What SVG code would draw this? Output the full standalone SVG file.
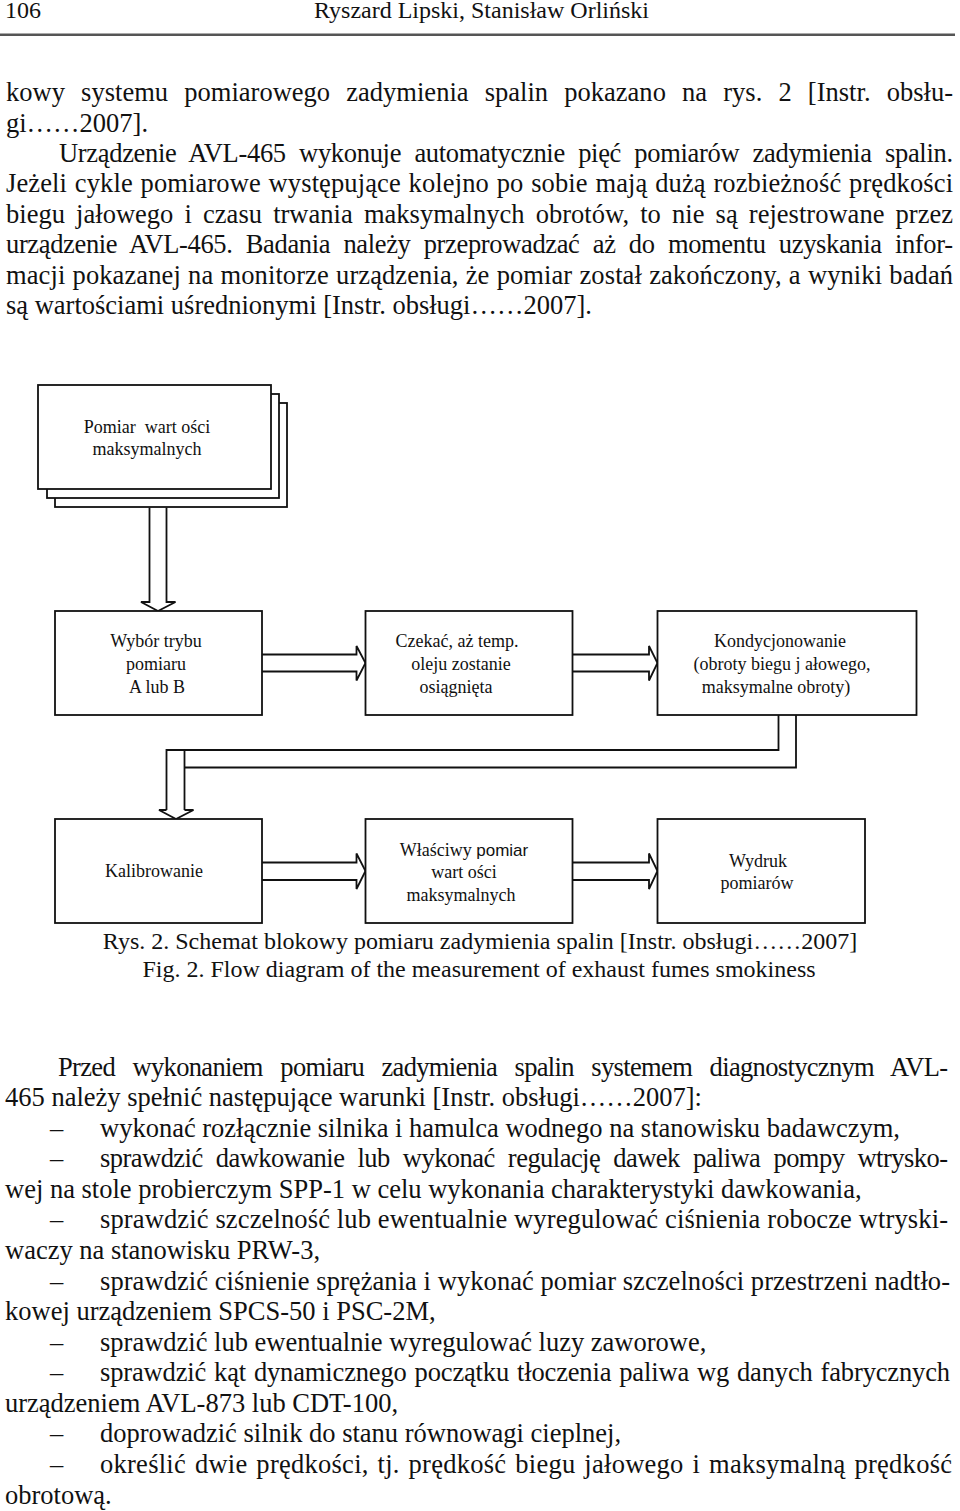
<svg xmlns="http://www.w3.org/2000/svg" width="960" height="1511" viewBox="0 0 960 1511">
<style>
text{font-family:"Liberation Serif","Times New Roman",serif;fill:#111}
.b{font-size:26.5px}
.h{font-size:24px}
.cap{font-size:24px;text-anchor:middle}
.n{font-size:18px;text-anchor:middle}
.sans{font-family:"Liberation Sans",Arial,sans-serif;font-size:17px}
.box{fill:#fff;stroke:#111;stroke-width:1.8}
.arr{fill:#fff;stroke:#111;stroke-width:1.8;stroke-linejoin:miter}
.ln{fill:none;stroke:#111;stroke-width:1.8}
</style>
<rect width="960" height="1511" fill="#fff"/>
<g id="header">
<text class="h" x="5" y="18">106</text>
<text class="h" x="314" y="18">Ryszard Lipski, Stanisław Orliński</text>
<rect x="0" y="33.5" width="955" height="2.5" fill="#555"/>
</g>
<g id="text-top">
<text class="b" x="6" y="101" textLength="947" lengthAdjust="spacing" word-spacing="9.5">kowy systemu pomiarowego zadymienia spalin pokazano na rys. 2 [Instr. obsłu-</text>
<text class="b" x="6" y="131.5">gi……2007].</text>
<text class="b" x="59" y="162" textLength="894" lengthAdjust="spacing" word-spacing="7">Urządzenie AVL-465 wykonuje automatycznie pięć pomiarów zadymienia spalin.</text>
<text class="b" x="6" y="192.3" textLength="947" lengthAdjust="spacing" word-spacing="1">Jeżeli cykle pomiarowe występujące kolejno po sobie mają dużą rozbieżność prędkości</text>
<text class="b" x="6" y="222.7" textLength="947" lengthAdjust="spacing" word-spacing="4.5">biegu jałowego i czasu trwania maksymalnych obrotów, to nie są rejestrowane przez</text>
<text class="b" x="6" y="253.1" textLength="947" lengthAdjust="spacing" word-spacing="7">urządzenie AVL-465. Badania należy przeprowadzać aż do momentu uzyskania infor-</text>
<text class="b" x="6" y="283.5" textLength="947" lengthAdjust="spacing" word-spacing="0.5">macji pokazanej na monitorze urządzenia, że pomiar został zakończony, a wyniki badań</text>
<text class="b" x="6" y="313.9">są wartościami uśrednionymi [Instr. obsługi……2007].</text>
</g>
<g id="connectors">
<path class="arr" d="M149.5,507.5 V602 H141 L158,611 L175.5,602 H166.5 V507.5"/>
<path class="arr" d="M262,654.5 H356.5 V646 L365.5,663 L356.5,680.5 V671.5 H262"/>
<path class="arr" d="M572.5,654.5 H649 V646 L657.5,663 L649,680.5 V671.5 H572.5"/>
<path class="ln" d="M778.5,715 V750 H166.5 V810"/>
<path class="ln" d="M796,715 V767.5 H184.5"/>
<path class="ln" d="M184.5,750 V810"/>
<path class="arr" d="M166.5,810 H159 L176,819 L193.5,810 H184.5"/>
<path class="arr" d="M262,862.5 H356.5 V853.5 L365.5,871 L356.5,889 V880 H262"/>
<path class="arr" d="M572.5,862.5 H649 V853.5 L657.5,871 L649,889 V880 H572.5"/>
</g>
<g id="node-pomiar">
<rect class="box" x="55" y="403" width="232" height="104"/>
<rect class="box" x="47" y="394" width="232" height="104"/>
<rect class="box" x="38" y="385" width="233" height="104"/>
<text class="n" x="147" y="433" xml:space="preserve">Pomiar  wart ości</text>
<text class="n" x="147" y="455">maksymalnych</text>
</g>
<g id="node-wybor">
<rect class="box" x="55" y="611" width="207" height="104"/>
<text class="n" x="156" y="647">Wybór trybu</text>
<text class="n" x="156" y="670">pomiaru</text>
<text class="n" x="157" y="693">A lub B</text>
</g>
<g id="node-czekac">
<rect class="box" x="365.5" y="611" width="207" height="104"/>
<text class="n" x="457" y="647">Czekać, aż temp.</text>
<text class="n" x="461" y="670">oleju zostanie</text>
<text class="n" x="456" y="693">osiągnięta</text>
</g>
<g id="node-kondycjonowanie">
<rect class="box" x="657.5" y="611" width="259" height="104"/>
<text class="n" x="780" y="647">Kondycjonowanie</text>
<text class="n" x="782" y="670">(obroty biegu j ałowego,</text>
<text class="n" x="776" y="693">maksymalne obroty)</text>
</g>
<g id="node-kalibrowanie">
<rect class="box" x="55" y="819" width="207" height="104"/>
<text class="n" x="154" y="877">Kalibrowanie</text>
</g>
<g id="node-wlasciwy">
<rect class="box" x="365.5" y="819" width="207" height="104"/>
<text class="n" x="464" y="856">Właściwy <tspan class="sans">pomiar</tspan></text>
<text class="n" x="464" y="878">wart ości</text>
<text class="n" x="461" y="901">maksymalnych</text>
</g>
<g id="node-wydruk">
<rect class="box" x="657.5" y="819" width="207.5" height="104"/>
<text class="n" x="758" y="867">Wydruk</text>
<text class="n" x="757" y="889">pomiarów</text>
</g>
<g id="caption">
<text class="cap" x="480" y="948.5">Rys. 2. Schemat blokowy pomiaru zadymienia spalin [Instr. obsługi……2007]</text>
<text class="cap" x="479" y="976.5">Fig. 2. Flow diagram of the measurement of exhaust fumes smokiness</text>
</g>
<g id="text-bottom">
<text class="b" x="58" y="1075.5" textLength="890" lengthAdjust="spacing" word-spacing="11.5">Przed wykonaniem pomiaru zadymienia spalin systemem diagnostycznym AVL-</text>
<text class="b" x="5" y="1106.1">465 należy spełnić następujące warunki [Instr. obsługi……2007]:</text>
<text class="b" x="50" y="1136.6">–</text>
<text class="b" x="100" y="1136.6">wykonać rozłącznie silnika i hamulca wodnego na stanowisku badawczym,</text>
<text class="b" x="50" y="1167.2">–</text>
<text class="b" x="100" y="1167.2" textLength="848" lengthAdjust="spacing" word-spacing="7">sprawdzić dawkowanie lub wykonać regulację dawek paliwa pompy wtrysko-</text>
<text class="b" x="5" y="1197.8">wej na stole probierczym SPP-1 w celu wykonania charakterystyki dawkowania,</text>
<text class="b" x="50" y="1228.4">–</text>
<text class="b" x="100" y="1228.4" textLength="848" lengthAdjust="spacing">sprawdzić szczelność lub ewentualnie wyregulować ciśnienia robocze wtryski-</text>
<text class="b" x="5" y="1258.9">waczy na stanowisku PRW-3,</text>
<text class="b" x="50" y="1289.5">–</text>
<text class="b" x="100" y="1289.5" textLength="850" lengthAdjust="spacing">sprawdzić ciśnienie sprężania i wykonać pomiar szczelności przestrzeni nadtło-</text>
<text class="b" x="5" y="1320.1">kowej urządzeniem SPCS-50 i PSC-2M,</text>
<text class="b" x="50" y="1350.7">–</text>
<text class="b" x="100" y="1350.7">sprawdzić lub ewentualnie wyregulować luzy zaworowe,</text>
<text class="b" x="50" y="1381.2">–</text>
<text class="b" x="100" y="1381.2" textLength="850" lengthAdjust="spacing" word-spacing="1.5">sprawdzić kąt dynamicznego początku tłoczenia paliwa wg danych fabrycznych</text>
<text class="b" x="5" y="1411.8">urządzeniem AVL-873 lub CDT-100,</text>
<text class="b" x="50" y="1442.4">–</text>
<text class="b" x="100" y="1442.4">doprowadzić silnik do stanu równowagi cieplnej,</text>
<text class="b" x="50" y="1473">–</text>
<text class="b" x="100" y="1473" textLength="852" lengthAdjust="spacing" word-spacing="2">określić dwie prędkości, tj. prędkość biegu jałowego i maksymalną prędkość</text>
<text class="b" x="5" y="1503.5">obrotową.</text>
</g>
</svg>
